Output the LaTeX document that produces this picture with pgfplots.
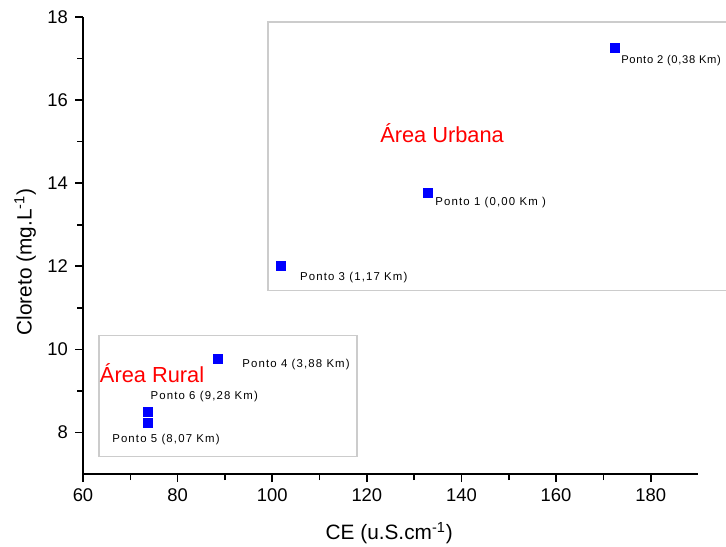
\documentclass[border=0pt]{standalone}
\usepackage{pgfplots}
\pgfplotsset{compat=1.18}
\usepackage{fontspec}
\setmainfont{Liberation Sans}
\newfontfamily\ptfont[LetterSpace=10]{Liberation Sans}
\newfontfamily\ptfonttight[LetterSpace=6]{Liberation Sans}
\begin{document}
\begin{tikzpicture}[x=1pt,y=1pt]
\begin{axis}[
  at={(41.5pt,36pt)}, anchor=south west,
  scale only axis, width=307.5pt, height=228.5pt,
  xmin=60, xmax=190, ymin=7, ymax=18,
  axis x line=bottom, axis y line=left,
  axis line style={-, line width=1pt},
  xtick={60,80,...,180}, ytick={8,10,...,18},
  minor x tick num=1, minor y tick num=1,
  tick align=outside,
  major tick length=4pt, minor tick length=3pt,
  tick style={line width=0.8pt, black},
  /pgf/number format/assume math mode=true,
  ticklabel style={font=\fontsize{9.2}{10}\selectfont},
  xlabel={CE (u.S.cm\textsuperscript{-1})},
  ylabel={Cloreto (mg.L\textsuperscript{-1})},
  label style={font=\fontsize{10.4}{12}\selectfont},
  xlabel style={at={(axis description cs:0.498,-0.129)}, anchor=center},
  ylabel style={at={(axis description cs:-0.094,0.464)}, anchor=center, rotate=0},
  clip=false,
]
\draw[gray!40, line width=0.6pt] (axis cs:99.1,11.42) rectangle (axis cs:196,17.88);
\draw[gray!40, line width=0.6pt] (axis cs:63.4,7.42) rectangle (axis cs:117.9,10.34);
\addplot[only marks, mark=square*, mark size=2.25pt, color=blue, mark options={fill=blue, draw=blue}] coordinates {
  (133,13.76) (172.5,17.25) (101.8,12.0) (88.5,9.76) (73.7,8.24) (73.7,8.5)
};
\node[red, font=\fontsize{10.9}{12}\selectfont] at (axis cs:135.9,15.2) {Área Urbana};
\node[red, font=\fontsize{10.9}{12}\selectfont] at (axis cs:74.6,9.42) {Área Rural};
\begin{scope}[every node/.style={anchor=west, inner sep=0pt, font=\ptfont\fontsize{5.7}{6}\selectfont}]
\node[font=\ptfonttight\fontsize{5.6}{6}\selectfont] at (axis cs:173.7,16.96) {Ponto 2 (0,38 Km)};
\node at (axis cs:134.4,13.54) {Ponto 1 (0,00 Km )};
\node at (axis cs:105.8,11.73) {Ponto 3 (1,17 Km)};
\node at (axis cs:93.6,9.64) {Ponto 4 (3,88 Km)};
\node at (axis cs:74.2,8.87) {Ponto 6 (9,28 Km)};
\node at (axis cs:66.1,7.83) {Ponto 5 (8,07 Km)};
\end{scope}
\end{axis}
\pgfresetboundingbox
\path (0,0) rectangle (363pt,273pt);
\end{tikzpicture}
\end{document}
